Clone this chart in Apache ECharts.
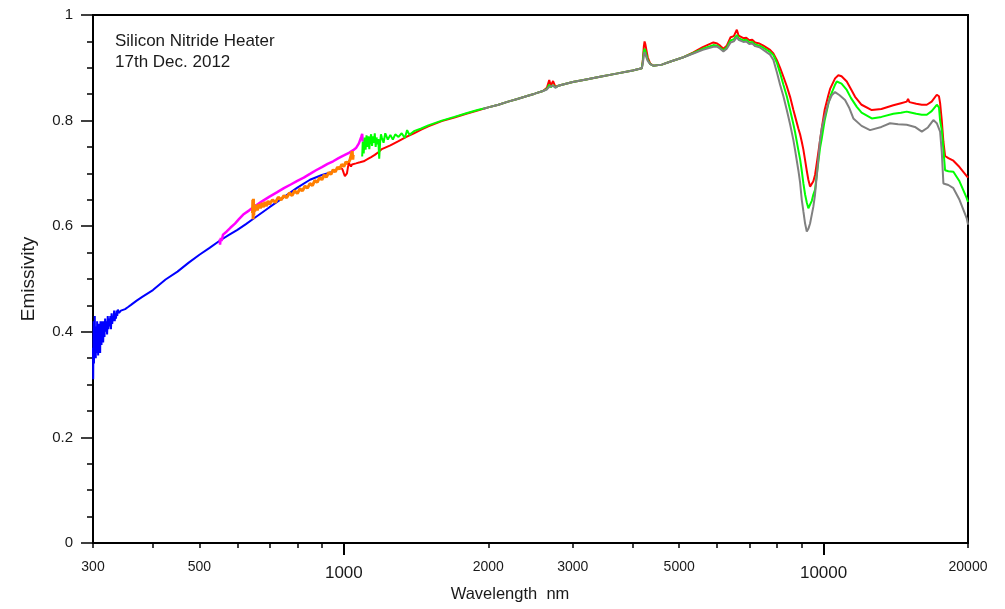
<!DOCTYPE html>
<html>
<head>
<meta charset="utf-8">
<script src="https://cdn.jsdelivr.net/npm/echarts@6/dist/echarts.min.js"></script>
<style>html,body{margin:0;padding:0;background:#fff;}#c{width:1005px;height:609px;}</style>
</head>
<body>
<div id="c"></div>
<script>
// ---- data (wavelength nm, emissivity) ----
const blueWl = [300,300.3,300.6,301,301.4,301.8,302.2,302.6,303,303.5,304,304.5,305,305.5,306,306.5,307,307.5,308,308.5,309,309.5,310,310.5,311,311.5,312,312.5,313,313.5,314,315,316,317,318,319,320,321,322,323,324,325,326,327,328,329,330,331,332,333,334,335,336,337,338,340,343,346,350,355,360,370,380,400,425,450,475,500,525,550,575,600,625,650,700,750,800,850,900,950];
const blueV  = [0.37,0.31,0.38,0.42,0.34,0.40,0.36,0.43,0.37,0.40,0.35,0.41,0.38,0.36,0.42,0.38,0.40,0.355,0.41,0.37,0.415,0.385,0.40,0.36,0.42,0.39,0.41,0.375,0.42,0.395,0.41,0.38,0.42,0.39,0.425,0.40,0.42,0.395,0.43,0.405,0.425,0.41,0.43,0.405,0.435,0.415,0.43,0.42,0.44,0.42,0.435,0.425,0.44,0.43,0.442,0.436,0.44,0.442,0.443,0.447,0.451,0.459,0.466,0.479,0.499,0.514,0.531,0.546,0.559,0.572,0.583,0.593,0.604,0.615,0.636,0.655,0.673,0.688,0.697,0.703];

const magWl = [551,552,554,556,560,570,580,593,605,617,635,650,675,700,725,750,775,800,825,850,875,900,925,950,975,1000,1025,1046,1060,1075,1083,1088,1092,1095];
const magV  = [0.575,0.565,0.578,0.572,0.584,0.590,0.597,0.605,0.614,0.622,0.630,0.637,0.647,0.656,0.664,0.672,0.679,0.686,0.692,0.699,0.706,0.712,0.718,0.723,0.729,0.734,0.739,0.744,0.748,0.757,0.760,0.770,0.775,0.760];

const orWl = [645,646,647,648,649,650,652,655,660,665,670,675,680,685,690,695,700,710,720,730,740,750,760,770,780,790,800,810,820,830,840,850,860,870,880,890,900,910,920,930,940,950,960,970,980,990,1000,1010,1020,1030,1038,1041,1044,1046];
const orV  = [0.625,0.650,0.613,0.652,0.620,0.642,0.628,0.640,0.630,0.642,0.634,0.644,0.636,0.646,0.638,0.648,0.642,0.650,0.645,0.655,0.650,0.658,0.654,0.663,0.658,0.667,0.662,0.671,0.667,0.676,0.672,0.681,0.677,0.687,0.683,0.692,0.688,0.697,0.693,0.702,0.698,0.707,0.703,0.712,0.708,0.717,0.713,0.722,0.718,0.726,0.724,0.742,0.726,0.735];

const redWl = [990,995,1000,1005,1010,1015,1020,1025,1030,1035,1040,1050,1060,1070,1080,1090,1100,1120,1140,1160,1180,1200,1250,1300,1350,1400,1450,1500,1600,1700,1800,1900,2000,2100,2200,2300,2400,2500,2600,2650,2680,2700,2730,2760,2800,2850,3000,3200,3420,3700,4000,4179,4200,4220,4235,4250,4270,4300,4350,4416,4600,4800,5103,5352,5600,5892,6000,6085,6183,6284,6400,6500,6594,6650,6700,6806,6900,7000,7100,7200,7350,7490,7734,7859,7989,8116,8246,8381,8515,8651,8722,8859,8933,9006,9076,9151,9225,9295,9372,9450,9521,9598,9700,9830,9912,10050,10231,10317,10567,10735,10900,11177,11400,11633,12000,12603,13200,13976,14500,14905,15000,15100,15600,16023,16411,16800,17217,17400,17494,17635,17773,17917,18203,18645,19200,19880,20000];
const redV  = [0.710,0.706,0.700,0.695,0.694,0.700,0.712,0.719,0.716,0.713,0.717,0.715,0.719,0.717,0.721,0.720,0.723,0.727,0.731,0.735,0.740,0.746,0.753,0.761,0.769,0.776,0.783,0.789,0.799,0.806,0.813,0.819,0.825,0.830,0.836,0.841,0.846,0.851,0.856,0.862,0.877,0.866,0.875,0.864,0.866,0.868,0.873,0.878,0.883,0.889,0.895,0.899,0.915,0.940,0.950,0.945,0.935,0.920,0.908,0.904,0.906,0.912,0.920,0.929,0.939,0.948,0.946,0.942,0.936,0.942,0.958,0.960,0.972,0.961,0.962,0.956,0.957,0.952,0.953,0.948,0.946,0.942,0.934,0.927,0.915,0.900,0.883,0.865,0.845,0.820,0.808,0.785,0.774,0.760,0.745,0.725,0.705,0.688,0.675,0.676,0.685,0.697,0.725,0.762,0.785,0.820,0.848,0.860,0.880,0.886,0.884,0.874,0.860,0.845,0.830,0.820,0.822,0.829,0.833,0.836,0.841,0.835,0.832,0.830,0.830,0.836,0.849,0.846,0.833,0.800,0.760,0.733,0.729,0.724,0.712,0.695,0.692];

const greenWl = [1092,1095,1100,1105,1110,1115,1120,1125,1130,1135,1140,1145,1150,1155,1160,1165,1170,1175,1180,1185,1190,1195,1200,1210,1220,1235,1250,1265,1280,1300,1320,1340,1355,1370,1400,1450,1500,1600,1700,1800,1900,2000,2100,2200,2300,2400,2500,2600,2650,2680,2700,2730,2760,2800,2850,3000,3200,3420,3700,4000,4179,4200,4220,4235,4250,4270,4300,4350,4416,4600,4800,5103,5352,5600,5892,6000,6085,6183,6284,6400,6500,6594,6650,6700,6806,6900,7000,7100,7200,7350,7490,7734,7859,7989,8116,8246,8381,8515,8651,8722,8859,8933,9006,9076,9151,9225,9295,9372,9450,9521,9598,9700,9830,9912,10050,10231,10317,10567,10652,10900,11177,11400,11728,12000,12603,13200,13976,14500,14905,15000,15100,15600,16023,16411,16800,17217,17400,17494,17635,17773,17917,18203,18645,19200,19880,20000];
const greenV  = [0.732,0.760,0.738,0.768,0.745,0.772,0.750,0.770,0.746,0.766,0.774,0.752,0.770,0.758,0.776,0.750,0.768,0.755,0.765,0.728,0.758,0.774,0.768,0.758,0.776,0.764,0.773,0.764,0.774,0.769,0.776,0.767,0.782,0.773,0.780,0.785,0.791,0.800,0.807,0.814,0.820,0.825,0.830,0.836,0.841,0.846,0.851,0.856,0.860,0.868,0.863,0.867,0.863,0.866,0.868,0.873,0.878,0.883,0.889,0.895,0.899,0.912,0.930,0.936,0.932,0.925,0.915,0.907,0.904,0.906,0.912,0.920,0.928,0.936,0.943,0.942,0.938,0.933,0.939,0.952,0.954,0.962,0.956,0.958,0.952,0.953,0.948,0.949,0.944,0.942,0.938,0.930,0.924,0.910,0.890,0.868,0.846,0.820,0.793,0.778,0.744,0.727,0.705,0.681,0.660,0.645,0.634,0.636,0.648,0.660,0.669,0.705,0.748,0.766,0.800,0.832,0.845,0.868,0.874,0.870,0.858,0.843,0.826,0.815,0.804,0.807,0.813,0.815,0.817,0.820,0.816,0.813,0.811,0.811,0.818,0.830,0.825,0.800,0.782,0.745,0.706,0.704,0.703,0.685,0.653,0.646];

const grayWl = [1950,2000,2100,2200,2300,2400,2500,2600,2650,2680,2700,2730,2760,2800,2850,3000,3200,3420,3700,4000,4179,4200,4220,4235,4250,4270,4300,4350,4416,4600,4800,5103,5352,5600,5892,6000,6085,6183,6284,6400,6500,6594,6650,6700,6806,6900,7000,7100,7200,7350,7490,7734,7859,7989,8116,8246,8381,8515,8651,8722,8859,8933,9006,9076,9151,9225,9295,9372,9450,9521,9598,9700,9830,9912,10050,10231,10400,10567,10800,11085,11300,11537,12000,12497,13200,13757,14300,14905,15500,16023,16500,16937,17217,17494,17635,17773,17917,18203,18645,19200,19880,20000];
const grayV  = [0.822,0.825,0.830,0.836,0.841,0.846,0.851,0.856,0.859,0.864,0.862,0.866,0.862,0.866,0.868,0.873,0.878,0.883,0.889,0.895,0.899,0.908,0.924,0.930,0.926,0.920,0.913,0.907,0.904,0.906,0.912,0.920,0.927,0.934,0.940,0.940,0.936,0.931,0.936,0.948,0.950,0.958,0.953,0.955,0.949,0.950,0.945,0.946,0.941,0.939,0.934,0.925,0.915,0.892,0.868,0.846,0.820,0.793,0.763,0.744,0.706,0.683,0.650,0.628,0.605,0.590,0.595,0.605,0.622,0.637,0.660,0.705,0.763,0.785,0.808,0.833,0.848,0.854,0.848,0.839,0.825,0.804,0.790,0.782,0.788,0.795,0.793,0.792,0.788,0.779,0.787,0.801,0.795,0.779,0.740,0.681,0.679,0.678,0.672,0.650,0.615,0.603];

// ---- axis ticks / labels (wavelength nm) ----
const minorTickWl = [300,400,500,600,700,800,900,2000,3000,4000,5000,6000,7000,8000,9000,20000];
const majorTickWl = [1000,10000];
const smallLabelWl = [300,500,2000,3000,5000,20000];
const bigLabelWl = [1000,10000];

const L = Math.log10;
const toData = (wl, v) => wl.map((w, i) => [L(w), v[i]]);
const FONT = '"Liberation Sans", Arial, sans-serif';
const xMin = L(300), xMax = L(20000);

const mk = (name, wl, v, color, w) => ({
  type: 'line', name, data: toData(wl, v), showSymbol: false, symbol: 'none',
  lineStyle: { color, width: w || 2 }, itemStyle: { color }, xAxisIndex: 0, yAxisIndex: 0,
  silent: true, z: 3
});

const chart = echarts.init(document.getElementById('c'), null, { renderer: 'canvas' });
chart.setOption({
  animation: false,
  backgroundColor: '#fff',
  grid: { left: 93, right: 37, top: 15, bottom: 66, show: true, borderColor: '#000', borderWidth: 2, backgroundColor: 'transparent' },
  xAxis: [{
    type: 'value', min: xMin, max: xMax, position: 'bottom',
    axisLine: { show: true, lineStyle: { color: '#000', width: 2 } },
    axisTick: { show: true, inside: false, length: 5, lineStyle: { color: '#000', width: 1.5 }, customValues: minorTickWl.map(L) },
    axisLabel: { show: true, margin: 17, fontFamily: FONT, fontSize: 14, color: '#1a1a1a',
      customValues: smallLabelWl.map(L), formatter: v => String(Math.round(Math.pow(10, v))) },
    splitLine: { show: false }
  }, {
    type: 'value', min: xMin, max: xMax, position: 'bottom', gridIndex: 0,
    axisLine: { show: false },
    axisTick: { show: true, inside: false, length: 12, lineStyle: { color: '#000', width: 2 }, customValues: majorTickWl.map(L) },
    axisLabel: { show: true, margin: 22, fontFamily: FONT, fontSize: 17, color: '#1a1a1a',
      customValues: bigLabelWl.map(L), formatter: v => String(Math.round(Math.pow(10, v))) },
    splitLine: { show: false }
  }],
  yAxis: [{
    type: 'value', min: 0, max: 1, interval: 0.2,
    name: 'Emissivity', nameLocation: 'middle', nameGap: 55, nameRotate: 90,
    nameTextStyle: { fontFamily: FONT, fontSize: 19, color: '#1a1a1a' },
    axisLine: { show: true, lineStyle: { color: '#000', width: 2 } },
    axisTick: { show: true, inside: false, length: 12, lineStyle: { color: '#000', width: 1.5 } },
    minorTick: { show: true, splitNumber: 4, length: 6, lineStyle: { color: '#000', width: 1.5 } },
    axisLabel: { margin: 20, fontFamily: FONT, fontSize: 15, color: '#1a1a1a' },
    splitLine: { show: false }, minorSplitLine: { show: false }
  }],
  graphic: [{
    type: 'text', left: 115, top: 31, silent: true,
    style: { text: 'Silicon Nitride Heater\n17th Dec. 2012', font: '17px ' + FONT, lineHeight: 20.6, fill: '#1a1a1a' }
  }, {
    type: 'text', x: 510, y: 594, silent: true,
    style: { text: 'Wavelength  nm', font: '16.5px ' + FONT, fill: '#1a1a1a', align: 'center', verticalAlign: 'middle' }
  }],
  series: [
    mk('blue', blueWl, blueV, '#0000ff'),
    mk('magenta', magWl, magV, '#ff00ff', 2.5),
    mk('orange', orWl, orV, '#ff7f00', 3),
    mk('red', redWl, redV, '#ff0000'),
    mk('green', greenWl, greenV, '#00ff00'),
    mk('gray', grayWl, grayV, '#808080')
  ]
});
</script>
</body>
</html>
